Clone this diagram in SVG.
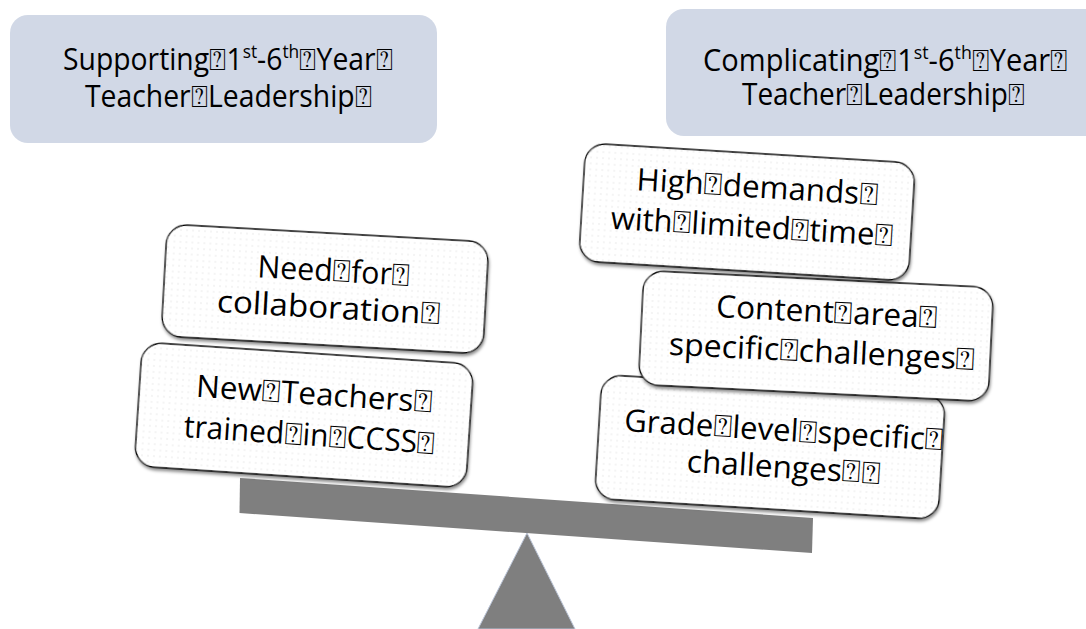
<svg xmlns="http://www.w3.org/2000/svg" width="1086" height="629" viewBox="0 0 1086 629">
<defs>
<style>
.hdr{fill:#D1D8E6;}
.t{font-family:"Open Sans","Liberation Sans",sans-serif;font-size:31px;fill:#000;text-anchor:middle;}
.card{fill:url(#dots);stroke:#000;stroke-width:1.3;filter:url(#sh);}
.sup{font-size:19px;}
</style>
<pattern id="dots" width="6" height="6" patternUnits="userSpaceOnUse">
<rect width="6" height="6" fill="#fff"/>
<circle cx="3" cy="3" r="0.7" fill="#e2e2e2"/>
</pattern>
<filter id="sh" x="-10%" y="-10%" width="120%" height="130%">
<feDropShadow dx="1" dy="2.5" stdDeviation="1.5" flood-color="#000" flood-opacity="0.45"/>
</filter>
</defs>
<rect width="1086" height="629" fill="#fff"/>

<g id="header-left">
<rect class="hdr" x="10" y="15" width="427" height="128" rx="18"/>
<text class="t" x="228" y="70" textLength="330" lengthAdjust="spacingAndGlyphs">Supporting⍰1<tspan class="sup" baseline-shift="12">st</tspan>-6<tspan class="sup" baseline-shift="12">th</tspan>⍰Year⍰</text>
<text class="t" x="228.5" y="107" textLength="287" lengthAdjust="spacingAndGlyphs">Teacher⍰Leadership⍰</text>
</g>

<g id="header-right">
<rect class="hdr" x="666" y="9" width="440" height="127" rx="18"/>
<text class="t" x="885.5" y="71" textLength="365" lengthAdjust="spacingAndGlyphs">Complicating⍰1<tspan class="sup" baseline-shift="12">st</tspan>-6<tspan class="sup" baseline-shift="12">th</tspan>⍰Year⍰</text>
<text class="t" x="883.5" y="105" textLength="283" lengthAdjust="spacingAndGlyphs">Teacher⍰Leadership⍰</text>
</g>

<g id="scale">
<polygon points="240,478 813,518 812,553 239.5,513" fill="#7F7F7F"/>
<polygon points="527,533 478,629 575,629" fill="#7F7F7F" stroke="#B9C3D6" stroke-width="1"/>
</g>

<g id="card-new-teachers" transform="translate(304,415) rotate(3.8)">
<rect class="card" x="-166" y="-62" width="332" height="124" rx="20"/>
<text class="t" x="9" y="-11" textLength="237" lengthAdjust="spacingAndGlyphs">New⍰Teachers⍰</text>
<text class="t" x="7" y="30" textLength="252" lengthAdjust="spacingAndGlyphs">trained⍰in⍰CCSS⍰</text>
</g>

<g id="card-need" transform="translate(325,289) rotate(3.2)">
<rect class="card" x="-161" y="-56" width="322" height="112" rx="20"/>
<text class="t" x="8" y="-8" textLength="153" lengthAdjust="spacingAndGlyphs">Need⍰for⍰</text>
<text class="t" x="5" y="29" textLength="224" lengthAdjust="spacingAndGlyphs">collaboration⍰</text>
</g>

<g id="card-grade" transform="translate(770,447) rotate(3.5)">
<rect class="card" x="-172" y="-62" width="344" height="124" rx="20"/>
<text class="t" x="13" y="-7" textLength="320" lengthAdjust="spacingAndGlyphs">Grade⍰level⍰specific⍰</text>
<text class="t" x="15" y="30" textLength="194" lengthAdjust="spacingAndGlyphs">challenges⍰⍰</text>
</g>

<g id="card-content" transform="translate(816,336) rotate(2.8)">
<rect class="card" x="-175" y="-57" width="350" height="114" rx="20"/>
<text class="t" x="10" y="-14" textLength="222" lengthAdjust="spacingAndGlyphs">Content⍰area⍰</text>
<text class="t" x="7" y="26" textLength="307" lengthAdjust="spacingAndGlyphs">specific⍰challenges⍰</text>
</g>

<g id="card-high" transform="translate(747,212) rotate(3.5)">
<rect class="card" x="-165" y="-59" width="330" height="118" rx="20"/>
<text class="t" x="9" y="-15" textLength="242" lengthAdjust="spacingAndGlyphs">High⍰demands⍰</text>
<text class="t" x="6" y="25" textLength="283" lengthAdjust="spacingAndGlyphs">with⍰limited⍰time⍰</text>
</g>
</svg>
